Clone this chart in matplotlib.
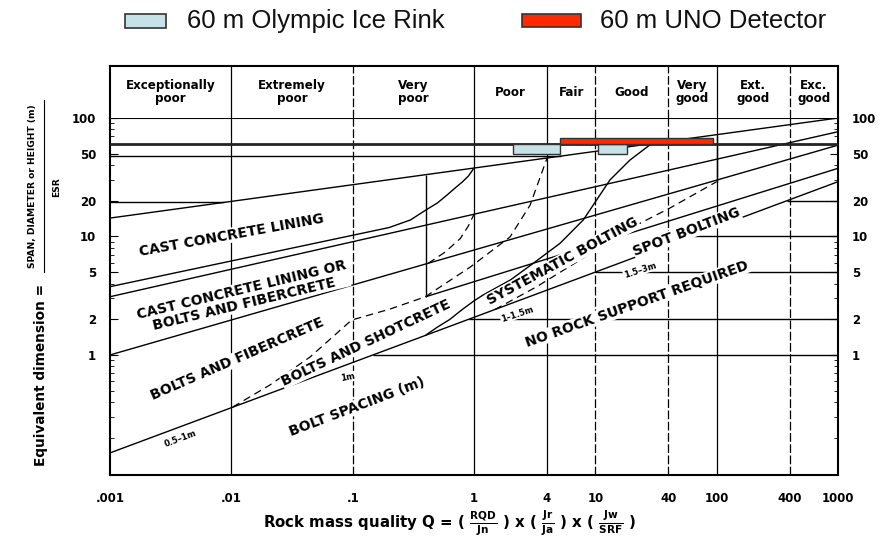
import matplotlib
matplotlib.use('Agg')
import matplotlib.pyplot as plt
from matplotlib.lines import Line2D
from matplotlib.patches import Rectangle
import numpy as np

plt.rcParams['font.family'] = 'DejaVu Sans'
plt.rcParams['mathtext.fontset'] = 'dejavusans'

# ---- values ----
q_bounds = [0.001, 0.01, 0.1, 1, 4, 10, 40, 100, 400, 1000]
q_classes = ['Exceptionally\npoor', 'Extremely\npoor', 'Very\npoor', 'Poor', 'Fair',
             'Good', 'Very\ngood', 'Ext.\ngood', 'Exc.\ngood']
q_ticklabels = ['.001', '.01', '.1', '1', '4', '10', '40', '100', '400', '1000']
d_ticks = [1, 2, 5, 10, 20, 50, 100]

# support class boundaries, (Q, D) points
top_q, top_d = [0.001, 1000], [14.3, 100]
lining_q = [0.001, 0.2, 0.3, 0.4, 0.5, 0.6, 0.7, 0.8, 0.9, 1.0]
lining_d = [3.77, 11.9, 13.8, 16.7, 19.2, 22.4, 25.7, 28.8, 32.4, 37.8]
mid_q, mid_d = [0.001, 1000], [3.1, 76.6]
fibre_q, fibre_d = [0.001, 1000], [1.0, 59]
shot_q, shot_d = [0.4, 1000], [3.1, 37.6]
nosup_q, nosup_d = [0.001, 1000], [0.149, 29]
scurve_q = [0.4, 0.5, 0.63, 0.8, 1.0, 1.19, 2.0, 3.08, 5.12, 7.96, 13.2, 19.3, 29.1]
scurve_d = [1.47, 1.72, 1.99, 2.42, 2.86, 3.21, 4.3, 5.94, 8.76, 13.8, 30, 44.2, 60.8]

# dashed boundaries
dash1_q = [0.0103, 0.0208, 0.0445, 0.098, 0.203, 0.395, 0.927, 1.98, 2.9, 4.0]
dash1_d = [0.364, 0.558, 0.96, 1.97, 2.44, 3.09, 5.5, 9.9, 18.4, 45.9]
dash2_q = [0.42, 0.58, 0.77, 0.9, 1.0]
dash2_d = [5.94, 7.4, 9.6, 12.3, 15.4]
dash3_q = [1.49, 3.29, 7.48, 16.0, 41.3, 100]
dash3_d = [2.42, 3.77, 6.33, 10.6, 17.4, 29.0]

# bolt spacing steps (start on the no-support line)
spacing_d = [1, 2, 5, 10, 20]
ext_top = 47.7          # thin line under the 60 m mark
left_stub_d = 19.4
vert_q = [0.4, 100]
vert_low_d = [3.1, 29.0]

# caverns drawn on the chart
span_d = 60
rink_q = [(2.1, 5.1), (10.6, 18.1)]
rink_d = (50, 60)
uno_q = (5.1, 92.7)
uno_d = (60, 68)

W, H = 887, 537
fig = plt.figure(figsize=(W / 100, H / 100), dpi=100)
ax = fig.add_axes([110 / W, 1 - 475 / H, 728 / W, 357 / H])
axh = fig.add_axes([110 / W, 1 - 118 / H, 728 / W, 52 / H])

for a in (ax, axh):
    a.set_xscale('log')
    a.set_xlim(0.001, 1000)
ax.set_yscale('log')
ax.set_ylim(0.097, 100)
axh.set_ylim(0, 1)

k = dict(color='black', lw=1.0, solid_capstyle='butt')

# category grid
inner = q_bounds[1:-1]
dashed_at = {0.1, 10, 40, 400}
for q in inner:
    ls = (0, (7, 2)) if q in dashed_at else '-'
    ax.axvline(q, ls=ls, color='black', lw=0.9, zorder=1)
    axh.axvline(q, ls=ls, color='black', lw=0.9)
for i, name in enumerate(q_classes):
    qc = np.sqrt(q_bounds[i] * q_bounds[i + 1])
    axh.text(qc, 0.5, name, ha='center', va='center', fontsize=8.6,
             fontweight='bold', linespacing=0.95)
axh.set_xticks([])
axh.set_yticks([])
axh.minorticks_off()
for s in axh.spines.values():
    s.set_linewidth(1.5)
axh.spines['bottom'].set_visible(False)

# boundaries
ax.plot(top_q, top_d, **k)
ax.plot(lining_q, lining_d, **k)
ax.plot(mid_q, mid_d, **k)
ax.plot(fibre_q, fibre_d, **k)
ax.plot(shot_q, shot_d, **k)
ax.plot(nosup_q, nosup_d, **k)
ax.plot(scurve_q, scurve_d, **k)
for qq, dd in ((dash1_q, dash1_d), (dash2_q, dash2_d), (dash3_q, dash3_d)):
    ax.plot(qq, dd, color='black', lw=0.9, dashes=(6, 4))

# verticals from top boundary down
lt = np.log10(top_q)
ld = np.log10(top_d)
for q, dlow in zip(vert_q, vert_low_d):
    dtop = 10 ** np.interp(np.log10(q), lt, ld)
    ax.plot([q, q], [dlow, dtop], **k)

# horizontal steps
ln_q = np.log10(nosup_q)
ln_d = np.log10(nosup_d)
for d in spacing_d:
    q0 = 10 ** np.interp(np.log10(d), ln_d, ln_q)
    ax.plot([q0, 1000], [d, d], **k)
q_ext = 10 ** np.interp(np.log10(ext_top), ld, lt)
ax.plot([0.001, q_ext], [ext_top, ext_top], **k)
q_stub = 10 ** np.interp(np.log10(left_stub_d), ld, lt)
ax.plot([0.001, q_stub], [left_stub_d, left_stub_d], **k)

# 60 m span line and caverns
ax.axhline(span_d, color='#222222', lw=2.0, zorder=3)
for q0, q1 in rink_q:
    ax.fill([q0, q1, q1, q0], [rink_d[0], rink_d[0], rink_d[1], rink_d[1]],
            facecolor='#c6e2e6', edgecolor='#333333', lw=1.0, zorder=4)
ax.fill([uno_q[0], uno_q[1], uno_q[1], uno_q[0]], [uno_d[0], uno_d[0], uno_d[1], uno_d[1]],
        facecolor='#ff2a00', edgecolor='#333333', lw=1.0, zorder=4)

# axes cosmetics
ax.set_xticks(q_bounds)
ax.set_xticklabels(q_ticklabels)
ax.xaxis.set_minor_locator(matplotlib.ticker.NullLocator())
ax.tick_params(axis='x', length=0, pad=12, labelsize=8.5)
ax.set_yticks(d_ticks)
ax.set_yticklabels([str(v) for v in d_ticks])
ax.tick_params(axis='y', which='both', direction='in', left=True, right=True,
               labelleft=True, labelright=True, labelsize=8.5)
ax.tick_params(axis='y', which='major', length=6, pad=10)
ax.tick_params(axis='y', which='minor', length=3)
for lab in ax.get_yticklabels() + ax.get_xticklabels():
    lab.set_fontweight('bold')
for s in ax.spines.values():
    s.set_linewidth(1.5)


def at(px, py):
    return (px - 110) / 728, (475 - py) / 357


wb = dict(facecolor='white', edgecolor='none', pad=0.4)
labels = [
    ('CAST CONCRETE LINING', 232, 235, 10.3, 10),
    ('CAST CONCRETE LINING OR\nBOLTS AND FIBERCRETE', 243, 297, 13.5, 10),
    ('BOLTS AND FIBERCRETE', 237, 359, 23.5, 10),
    ('BOLTS AND SHOTCRETE', 366, 343, 25.2, 10),
    ('BOLT SPACING (m)', 357, 407, 20.8, 10),
    ('SYSTEMATIC BOLTING', 563, 261, 28.4, 10),
    ('SPOT BOLTING', 687, 232, 20.9, 10),
    ('NO ROCK SUPPORT REQUIRED', 637, 304, 19.4, 10),
    ('0.5\u20131m', 180, 439, 20.6, 6),
    ('1m', 348, 377, 10, 6),
    ('1\u20131.5m', 517, 314, 18, 6),
    ('1.5\u20133m', 640, 270, 18, 6),
]
for txt, px, py, rot, fs in labels:
    x, y = at(px, py)
    ax.text(x, y, txt, transform=ax.transAxes, rotation=rot, rotation_mode='anchor',
            ha='center', va='center', fontsize=fs, fontweight='bold',
            linespacing=1.0, bbox=wb, zorder=5)

# axis titles
fig.text(41 / W, 1 - 375 / H, 'Equivalent dimension =', rotation=90,
         ha='center', va='center', fontsize=9.8, fontweight='bold')
fig.text(33 / W, 1 - 186 / H, 'SPAN, DIAMETER or HEIGHT (m)', rotation=90,
         ha='center', va='center', fontsize=6.6, fontweight='bold')
fig.add_artist(Line2D([44 / W, 44 / W], [1 - 272 / H, 1 - 100 / H], color='black', lw=0.8))
fig.text(57 / W, 1 - 187 / H, 'ESR', rotation=90, ha='center', va='center',
         fontsize=6.6, fontweight='bold')
fig.text(450 / W, 1 - 523 / H,
         r'Rock mass quality Q = ( $\frac{\mathbf{RQD}}{\mathbf{Jn}}$ ) x ( $\frac{\mathbf{Jr}}{\mathbf{Ja}}$ ) x ( $\frac{\mathbf{Jw}}{\mathbf{SRF}}$ )',
         ha='center', va='center', fontsize=10.8, fontweight='bold')

# legend across the top
fig.add_artist(Rectangle((125 / W, 1 - 28 / H), 41 / W, 14 / H, transform=fig.transFigure,
                         facecolor='#c6e2e6', edgecolor='#333333', lw=1.2))
fig.text(187 / W, 1 - 21 / H, '60 m Olympic Ice Rink', ha='left', va='center',
         fontsize=18.5, family='Liberation Sans', color='#111111')
fig.add_artist(Rectangle((522 / W, 1 - 27 / H), 59 / W, 13 / H, transform=fig.transFigure,
                         facecolor='#ff2a00', edgecolor='#333333', lw=1.2))
fig.text(600 / W, 1 - 21 / H, '60 m UNO Detector', ha='left', va='center',
         fontsize=18.5, family='Liberation Sans', color='#111111')

fig.savefig('out.png', dpi=100)
